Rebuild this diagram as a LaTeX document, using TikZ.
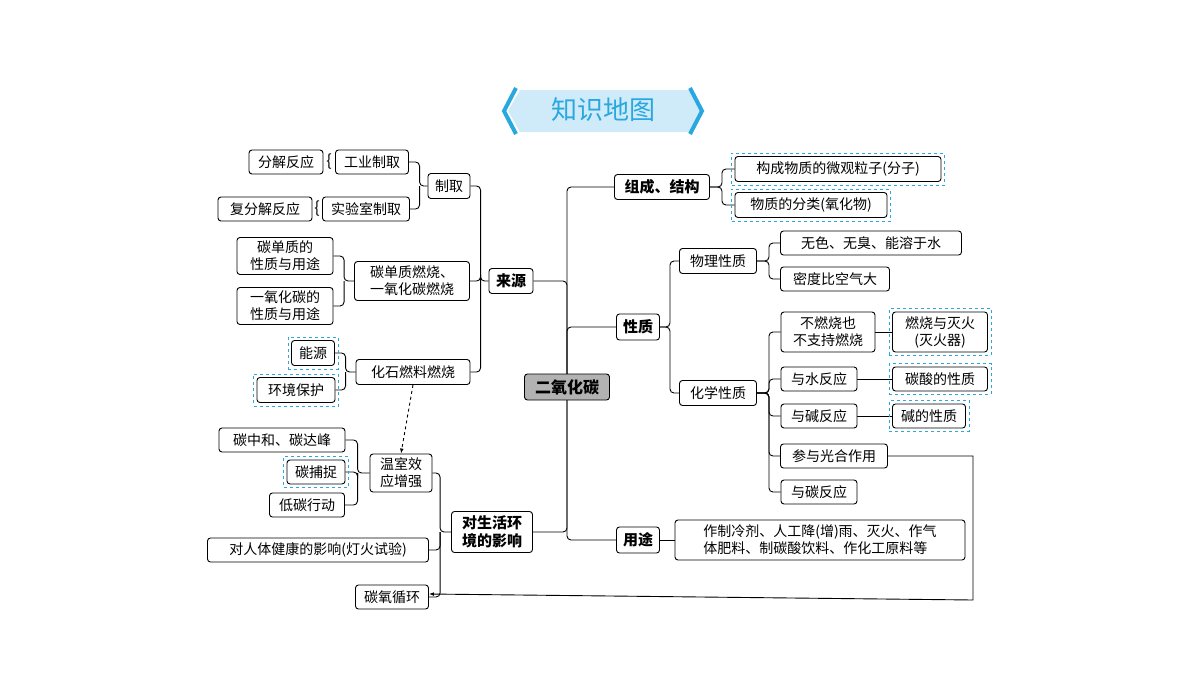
\documentclass[tikz,border=0pt]{standalone}
\usepackage{fontspec}
\setmainfont{Noto Sans CJK SC}
\usetikzlibrary{fit,backgrounds,arrows.meta}
\definecolor{hlb}{HTML}{29A8E0}
\definecolor{ttl}{HTML}{CFEAF8}
\begin{document}
\begin{tikzpicture}[x=1pt,y=-1pt,
  bx/.style={draw=black,line width=0.9pt,rounded corners=3pt,fill=white,inner sep=2pt,font=\fontsize{14}{17}\selectfont,align=center},
  hl/.style={append after command={node[draw=hlb,dashed,line width=0.9pt,fit=(\tikzlastnode),inner sep=3pt]{}}},
  conn/.style={line width=0.9pt,rounded corners=4pt},
  brace/.style={font=\fontsize{16}{16}\selectfont,inner sep=0pt}]
\useasboundingbox (0,0) rectangle (1200,675);
% title
\fill[ttl] (520,90) -- (690,90) -- (702,111) -- (690,132) -- (520,132) -- (508,111) -- cycle;
\draw[hlb,line width=4pt,line join=miter] (516,88) -- (504,111) -- (516,134);
\draw[hlb,line width=4pt,line join=miter] (690,88) -- (702,111) -- (690,134);
\node[text=hlb,font=\fontsize{26}{30}\selectfont] (title) at (603,110) {知识地图};
% center
\node[bx,fill=black!30,font=\fontsize{16}{19}\selectfont\bfseries,minimum width=85,minimum height=26] (co2) at (567,387) {二氧化碳};
% left: sources
\node[bx,minimum width=74,minimum height=24] (fj) at (286,162) {分解反应};
\node[bx,minimum width=73,minimum height=24] (gy) at (372,162) {工业制取};
\node[bx,minimum width=42,minimum height=25] (zq) at (449,186) {制取};
\node[bx,minimum width=94,minimum height=24] (ffj) at (265,209) {复分解反应};
\node[bx,minimum width=87,minimum height=24] (sys) at (366,209) {实验室制取};
\node[brace] (b1) at (329,162) {\{};
\node[brace] (b2) at (317,209) {\{};
\node[bx,minimum width=96,minimum height=37] (tdz) at (285,256) {碳单质的\\性质与用途};
\node[bx,minimum width=96,minimum height=37] (yyht) at (285,306) {一氧化碳的\\性质与用途};
\node[bx,minimum width=115,minimum height=39] (rs) at (412,281) {碳单质燃烧、\\一氧化碳燃烧};
\node[bx,font=\fontsize{15}{18}\selectfont\bfseries,minimum width=44,minimum height=25] (src) at (511,281) {来源};
\node[bx,hl,minimum width=43,minimum height=25] (ny) at (313,353) {能源};
\node[bx,hl,minimum width=78,minimum height=25] (hj) at (296,390) {环境保护};
\node[bx,minimum width=114,minimum height=25] (hs) at (413,372) {化石燃料燃烧};
% left: environment
\node[bx,minimum width=126,minimum height=24] (tzh) at (282,440) {碳中和、碳达峰};
\node[bx,hl,minimum width=58,minimum height=24] (tbz) at (316,472) {碳捕捉};
\node[bx,minimum width=75,minimum height=24] (dt) at (307,505) {低碳行动};
\node[bx,minimum width=62,minimum height=38] (wsx) at (401,473) {温室效\\应增强};
\node[bx,font=\fontsize{15}{18}\selectfont\bfseries,minimum width=81,minimum height=41] (dsh) at (492,532) {对生活环\\境的影响};
\node[bx,minimum width=221,minimum height=24] (rt) at (318,550) {对人体健康的影响(灯火试验)};
\node[bx,minimum width=73,minimum height=24] (tyx) at (392,597) {碳氧循环};
% right
\node[bx,font=\fontsize{15}{18}\selectfont\bfseries,minimum width=95,minimum height=25] (zc) at (662,187) {组成、结构};
\node[bx,hl,minimum width=206,minimum height=25] (gc) at (838,169) {构成物质的微观粒子(分子)};
\node[bx,hl,minimum width=152,minimum height=25] (fl) at (811,205) {物质的分类(氧化物)};
\node[bx,font=\fontsize{15}{18}\selectfont\bfseries,minimum width=43,minimum height=26] (xz) at (638,327) {性质};
\node[bx,minimum width=77,minimum height=25] (wl) at (718,261) {物理性质};
\node[bx,minimum width=181,minimum height=24] (ws) at (871,243) {无色、无臭、能溶于水};
\node[bx,minimum width=109,minimum height=24] (md) at (835,279) {密度比空气大};
\node[bx,minimum width=77,minimum height=25] (hx) at (718,393) {化学性质};
\node[bx,minimum width=94,minimum height=40] (br) at (828,332) {不燃烧也\\不支持燃烧};
\node[bx,hl,minimum width=95,minimum height=40] (rsm) at (940,332) {燃烧与灭火\\(灭火器)};
\node[bx,minimum width=76,minimum height=24] (ys) at (819,379) {与水反应};
\node[bx,hl,minimum width=95,minimum height=24] (ts) at (940,379) {碳酸的性质};
\node[bx,minimum width=76,minimum height=24] (yj) at (819,416) {与碱反应};
\node[bx,hl,minimum width=73,minimum height=24] (js) at (929,416) {碱的性质};
\node[bx,minimum width=107,minimum height=24] (gh) at (834,456) {参与光合作用};
\node[bx,minimum width=76,minimum height=24] (yt) at (819,492) {与碳反应};
\node[bx,font=\fontsize{15}{18}\selectfont\bfseries,minimum width=43,minimum height=26] (yt2) at (638,540) {用途};
\node[bx,align=left,minimum width=290,minimum height=40] (ytx) at (820,540) {作制冷剂、人工降(增)雨、灭火、作气\\体肥料、制碳酸饮料、作化工原料等};
\coordinate (ghr) at (973,456);
\coordinate (cyc) at (973,600);
\begin{scope}[on background layer]
\foreach \c in {zc,xz,yt2,dsh,src} \draw[conn] (co2.center) |- (\c);
\draw[conn] (gy.east) -| ([xshift=-8]zq.west) -- (zq.west);
\draw[conn] (sys.east) -| ([xshift=-8]zq.west);
\draw[conn] (tdz.east) -| ([xshift=-10]rs.west) -- (rs.west);
\draw[conn] (yyht.east) -| ([xshift=-10]rs.west);
\draw[conn] (ny.east) -| ([xshift=-10]hs.west) -- (hs.west);
\draw[conn] (hj.east) -| ([xshift=-10]hs.west);
\draw[conn] (zq.east) -| ([xshift=-8]src.west) -- (src.west);
\draw[conn] (rs.east) -| ([xshift=-8]src.west);
\draw[conn] (hs.east) -| ([xshift=-8]src.west);
\draw[conn] (tzh.east) -| ([xshift=-12]wsx.west) -- (wsx.west);
\draw[conn] (tbz.east) -| ([xshift=-12]wsx.west);
\draw[conn] (dt.east) -| ([xshift=-12]wsx.west);
\draw[conn] (wsx.east) -| ([xshift=-11]dsh.west) -- (dsh.west);
\draw[conn] (rt.east) -| ([xshift=-11]dsh.west);
\draw[conn] (tyx.east) -| ([xshift=-11]dsh.west);
\draw[conn] (zc.east) -- ++(12,0) |- (gc.west);
\draw[conn] (zc.east) -- ++(12,0) |- (fl.west);
\draw[conn] (xz.east) -- ++(10,0) |- (wl.west);
\draw[conn] (xz.east) -- ++(10,0) |- (hx.west);
\draw[conn] (wl.east) -- ++(12,0) |- (ws.west);
\draw[conn] (wl.east) -- ++(12,0) |- (md.west);
\foreach \c in {br,ys,yj,gh,yt} \draw[conn] (hx.east) -- ++(12,0) |- (\c.west);
\draw[line width=0.9pt] (br) -- (rsm);
\draw[line width=0.9pt] (ys) -- (ts);
\draw[line width=0.9pt] (yj) -- (js);
\draw[line width=0.9pt] (yt2) -- (ytx);
\draw[line width=0.9pt,dashed,-{Latex[length=5pt]}] (hs.south) -- (wsx.north);
\draw[line width=0.9pt,-{Latex[length=5pt]}] (gh.east) -- (ghr) -- (cyc) -- ([yshift=3]tyx.east);
\end{scope}
\end{tikzpicture}
\end{document}
